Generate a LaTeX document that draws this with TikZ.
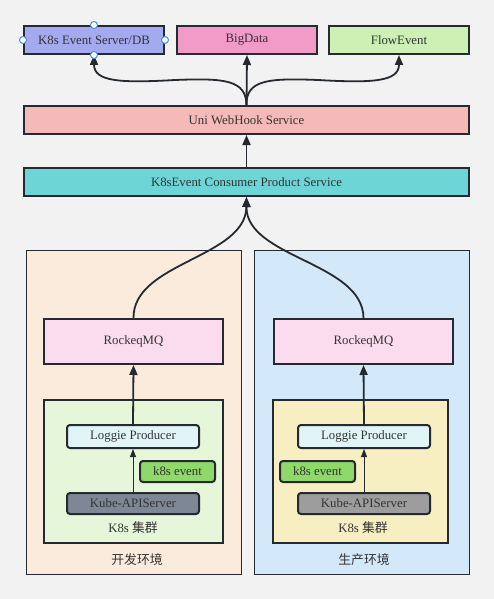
\documentclass[tikz,border=0pt]{standalone}
\usepackage{fontspec}
\setmainfont{Liberation Serif}
\newfontfamily\cjk{Noto Sans CJK SC}
\usetikzlibrary{arrows.meta}
\definecolor{bg}{HTML}{F2F2F2}
\definecolor{edge}{HTML}{252A30}
\definecolor{txt}{HTML}{333333}
\definecolor{dbc}{HTML}{A4AAF0}
\definecolor{bigc}{HTML}{F29BC8}
\definecolor{flowc}{HTML}{CDF0B5}
\definecolor{unic}{HTML}{F5B9B9}
\definecolor{consc}{HTML}{6DD5D6}
\definecolor{devc}{HTML}{FBEBDD}
\definecolor{prodc}{HTML}{D3E8F8}
\definecolor{mqc}{HTML}{FADCEE}
\definecolor{devk}{HTML}{E5F6D9}
\definecolor{prodk}{HTML}{F7EEC2}
\definecolor{logc}{HTML}{E1F5F8}
\definecolor{evc}{HTML}{8FD86A}
\definecolor{apidev}{HTML}{7E8796}
\definecolor{apiprod}{HTML}{9D9D9D}
\definecolor{handle}{HTML}{4A90E2}
\begin{document}
\begin{tikzpicture}[x=1pt,y=-1pt,
  box/.style={draw=edge,line width=2pt,inner sep=0pt,text=txt,
    font=\fontsize{12.8}{14}\selectfont},
  wide/.style={box,minimum width=445pt,minimum height=28pt},
  top/.style={box,minimum width=140pt,minimum height=28pt},
  small/.style={box,rounded corners=3pt,minimum height=21pt},
  env/.style={draw=edge,line width=0.8pt,inner sep=0pt},
  lbl/.style={text=txt,font=\fontsize{12.8}{14}\selectfont,inner sep=0pt},
  arr/.style={draw=edge,line width=1.8pt,-{Triangle[length=10pt,width=8pt]}},
  thin/.style={draw=edge,line width=0.9pt,-{Triangle[length=8pt,width=6pt]}}]
\useasboundingbox[fill=bg] (0,0) rectangle (494,599);
%ambientes
  \node[env,fill=devc,minimum width=215pt,minimum height=324pt] (dev) at (133.5,412) {};
  \node[env,fill=prodc,minimum width=215pt,minimum height=324pt] (prod) at (361.5,412) {};
  \node[lbl] (devl) at (137,560) {\cjk 开发环境};
  \node[lbl] (prodl) at (364,560) {\cjk 生产环境};
%clusters
  \node[box,fill=devk,minimum width=179pt,minimum height=143pt] (kdev) at (133.5,471.5) {};
  \node[box,fill=prodk,minimum width=175pt,minimum height=143pt] (kprod) at (360.5,471.5) {};
  \node[lbl] (kdevl) at (133,528) {K8s {\cjk 集群}};
  \node[lbl] (kprodl) at (363,528) {K8s {\cjk 集群}};
%caixas
  \node[top,fill=dbc] (db) at (94,40) {K8s Event Server/DB};
  \node[top,fill=bigc] (big) at (247,40) {BigData};
  \node[top,fill=flowc] (flow) at (399,40) {FlowEvent};
  \node[wide,fill=unic] (uni) at (246.5,120) {Uni WebHook Service};
  \node[wide,fill=consc] (cons) at (246.5,182) {K8sEvent Consumer Product Service};
  \node[box,fill=mqc,minimum width=179pt,minimum height=45pt] (mqdev) at (133.5,341.5) {RockeqMQ};
  \node[box,fill=mqc,minimum width=179pt,minimum height=45pt] (mqprod) at (363.5,341.5) {RockeqMQ};
  \node[small,fill=logc,minimum width=132pt,minimum height=23pt] (logdev) at (133,436.5) {Loggie Producer};
  \node[small,fill=logc,minimum width=132pt,minimum height=23pt] (logprod) at (364,436.5) {Loggie Producer};
  \node[small,fill=evc,minimum width=75pt] (evdev) at (177.5,471.5) {k8s event};
  \node[small,fill=evc,minimum width=75pt] (evprod) at (317.5,471.5) {k8s event};
  \node[small,fill=apidev,minimum width=132pt] (apidev) at (133,503.5) {Kube-APIServer};
  \node[small,fill=apiprod,minimum width=132pt] (apiprod) at (364,503.5) {Kube-APIServer};
%setas
  \draw[arr] (uni.north) -- (big.south);
  \draw[arr] (uni.north) .. controls (246,80) and (225,78) .. (175,80) .. controls (122,83) and (94,82) .. (db.south);
  \draw[arr] (uni.north) .. controls (246,80) and (268,78) .. (318,80) .. controls (371,83) and (399,82) .. (flow.south);
  \draw[arr] (cons.north) -- (uni.south);
  \draw[arr] (mqdev.north) .. controls (133,262) and (246,258) .. (cons.south);
  \draw[arr] (mqprod.north) .. controls (363,262) and (246,258) .. (cons.south);
  \draw[arr] (logdev.north) -- (mqdev.south);
  \draw[arr] (logprod.north) -- (mqprod.south);
  \draw[thin] (apidev.north) -- (logdev.south);
  \draw[thin] (apiprod.north) -- (logprod.south);
%alcas
  \foreach \p in {db.west,db.east,db.north,db.south}
    \draw[handle,fill=white,line width=1pt] (\p) circle (3.5);
\end{tikzpicture}
\end{document}
